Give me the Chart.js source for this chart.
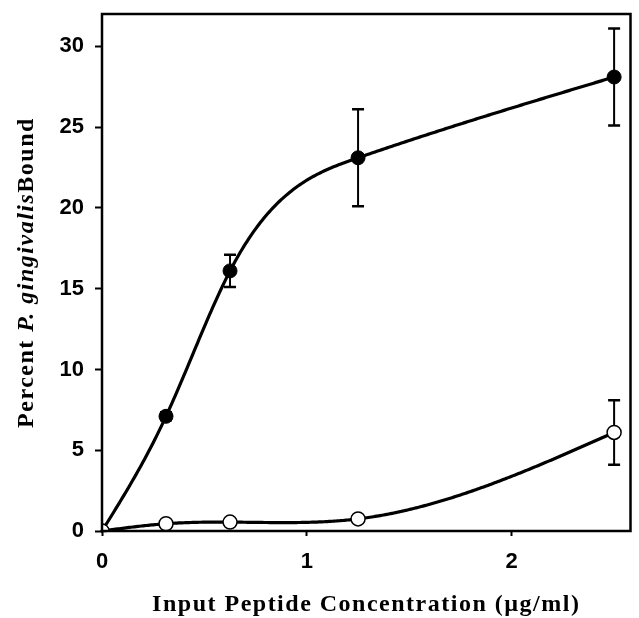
<!DOCTYPE html>
<html>
<head>
<meta charset="utf-8">
<script src="https://cdn.jsdelivr.net/npm/chart.js@4"></script>
<style>
  html, body { margin: 0; padding: 0; background: #fff; overflow: hidden; }
  #wrap { width: 639px; height: 618px; position: relative; }
  #chart { display: block; }
</style>
</head>
<body>
<div id="wrap"><canvas id="chart"></canvas></div>
<script>
// Data
const concentrations = [0, 0.3125, 0.625, 1.25, 2.5];
const peptideBound = [0, 7.1, 16.1, 23.1, 28.1];      // filled circles
const peptideErr = [0, 0.25, 1, 3, 3];
const controlBound = [0, 0.45, 0.55, 0.75, 6.1];     // open circles
const controlErr = [0, 0, 0, 0, 2];
const xTicks = [0, 1, 2];
const yTicks = [0, 5, 10, 15, 20, 25, 30];

const tickFont = { family: 'Liberation Sans', size: 22, weight: 'bold' };
const titleFont = 'Liberation Serif';

function toPoints(xs, ys) {
  return xs.map((x, i) => ({ x, y: ys[i] }));
}

// Natural cubic spline second derivatives
function splineCoeffs(xs, ys) {
  const n = xs.length;
  const m = new Array(n).fill(0);
  const u = new Array(n).fill(0);
  for (let i = 1; i < n - 1; i++) {
    const sig = (xs[i] - xs[i - 1]) / (xs[i + 1] - xs[i - 1]);
    const p = sig * m[i - 1] + 2;
    m[i] = (sig - 1) / p;
    let d = (ys[i + 1] - ys[i]) / (xs[i + 1] - xs[i]) - (ys[i] - ys[i - 1]) / (xs[i] - xs[i - 1]);
    u[i] = (6 * d / (xs[i + 1] - xs[i - 1]) - sig * u[i - 1]) / p;
  }
  m[n - 1] = 0;
  for (let k = n - 2; k >= 0; k--) m[k] = m[k] * m[k + 1] + u[k];
  return m;
}

function splineAt(xs, ys, m, x) {
  let k = 0;
  while (k < xs.length - 2 && x > xs[k + 1]) k++;
  const h = xs[k + 1] - xs[k];
  const a = (xs[k + 1] - x) / h;
  const b = (x - xs[k]) / h;
  return a * ys[k] + b * ys[k + 1] + ((a * a * a - a) * m[k] + (b * b * b - b) * m[k + 1]) * h * h / 6;
}

// Curves and error bars, drawn under the markers
const curvesPlugin = {
  id: 'curves',
  beforeDatasetsDraw(chart) {
    const { ctx, scales: { x, y } } = chart;
    ctx.save();
    ctx.strokeStyle = '#000';
    ctx.lineJoin = 'round';
    ctx.lineCap = 'round';
    [peptideBound, controlBound].forEach(ys => {
      const m = splineCoeffs(concentrations, ys);
      const x0 = concentrations[0], x1 = concentrations[concentrations.length - 1];
      ctx.beginPath();
      ctx.lineWidth = 3.2;
      for (let s = 0; s <= 300; s++) {
        const xv = x0 + (x1 - x0) * s / 300;
        const px = x.getPixelForValue(xv);
        const py = y.getPixelForValue(splineAt(concentrations, ys, m, xv));
        if (s === 0) ctx.moveTo(px, py); else ctx.lineTo(px, py);
      }
      ctx.stroke();
    });
    ctx.lineCap = 'butt';
    [[peptideBound, peptideErr], [controlBound, controlErr]].forEach(([ys, errs]) => {
      ys.forEach((v, i) => {
        if (!errs[i]) return;
        const px = x.getPixelForValue(concentrations[i]);
        const top = y.getPixelForValue(v + errs[i]);
        const bot = y.getPixelForValue(v - errs[i]);
        ctx.lineWidth = 2;
        ctx.beginPath();
        ctx.moveTo(px, top); ctx.lineTo(px, bot);
        ctx.stroke();
        ctx.lineWidth = 2.5;
        ctx.beginPath();
        ctx.moveTo(px - 6, top); ctx.lineTo(px + 6, top);
        ctx.moveTo(px - 6, bot); ctx.lineTo(px + 6, bot);
        ctx.stroke();
      });
    });
    ctx.restore();
  },
  afterDraw(chart) {
    const { ctx, chartArea: a } = chart;
    ctx.save();
    ctx.strokeStyle = '#000';
    ctx.lineWidth = 2.5;
    ctx.strokeRect(a.left, a.top, a.right - a.left, a.bottom - a.top);

    // axis titles
    ctx.fillStyle = '#000';
    ctx.textBaseline = 'middle';
    ctx.textAlign = 'center';
    ctx.letterSpacing = '1.5px';
    ctx.font = 'bold 24px "' + titleFont + '"';
    ctx.fillText('Input Peptide Concentration (\u00b5g/ml)', (a.left + a.right) / 2, 605);

    const parts = [
      ['Percent ', 'bold 24px "' + titleFont + '"'],
      ['P. gingivalis', 'italic bold 24px "' + titleFont + '"'],
      ['Bound', 'bold 24px "' + titleFont + '"']
    ];
    let total = 0;
    parts.forEach(p => { ctx.font = p[1]; total += ctx.measureText(p[0]).width; });
    ctx.translate(27, (a.top + a.bottom) / 2);
    ctx.rotate(-Math.PI / 2);
    ctx.textAlign = 'left';
    let cx = -total / 2;
    parts.forEach(p => {
      ctx.font = p[1];
      ctx.fillText(p[0], cx, 0);
      cx += ctx.measureText(p[0]).width;
    });
    ctx.restore();
  }
};

new Chart(document.getElementById('chart'), {
  type: 'scatter',
  data: {
    datasets: [
      {
        label: 'Control',
        data: toPoints(concentrations, controlBound),
        order: 0,
        showLine: false,
        pointRadius: 7,
        pointBackgroundColor: '#fff',
        pointBorderColor: '#000',
        pointBorderWidth: 1.5
      },
      {
        label: 'Peptide',
        data: toPoints(concentrations, peptideBound),
        order: 1,
        showLine: false,
        pointRadius: 7,
        pointBackgroundColor: '#000',
        pointBorderColor: '#000',
        pointBorderWidth: 1
      }
    ]
  },
  options: {
    responsive: true,
    maintainAspectRatio: false,
    animation: false,
    devicePixelRatio: 1,
    layout: { padding: { left: 0, right: 2, top: 14, bottom: 0 } },
    plugins: {
      legend: { display: false },
      tooltip: { enabled: false }
    },
    scales: {
      x: {
        type: 'linear',
        min: 0,
        max: 2.58,
        afterBuildTicks: s => { s.ticks = xTicks.map(v => ({ value: v })); },
        afterFit: s => { s.height = 87; s.paddingLeft = 0; s.paddingRight = 0; },
        border: { display: false },
        grid: { drawOnChartArea: false, color: '#000', tickLength: 5, tickWidth: 2 },
        ticks: { color: '#000', font: tickFont, padding: 13, maxRotation: 0 }
      },
      y: {
        type: 'linear',
        min: 0,
        max: 32,
        afterBuildTicks: s => { s.ticks = yTicks.map(v => ({ value: v })); },
        afterFit: s => { s.width = 102; s.paddingTop = 0; s.paddingBottom = 0; },
        border: { display: false },
        grid: { drawOnChartArea: false, color: '#000', tickLength: 7, tickWidth: 2 },
        ticks: { color: '#000', font: tickFont, padding: 11 }
      }
    }
  },
  plugins: [curvesPlugin]
});
</script>
</body>
</html>
